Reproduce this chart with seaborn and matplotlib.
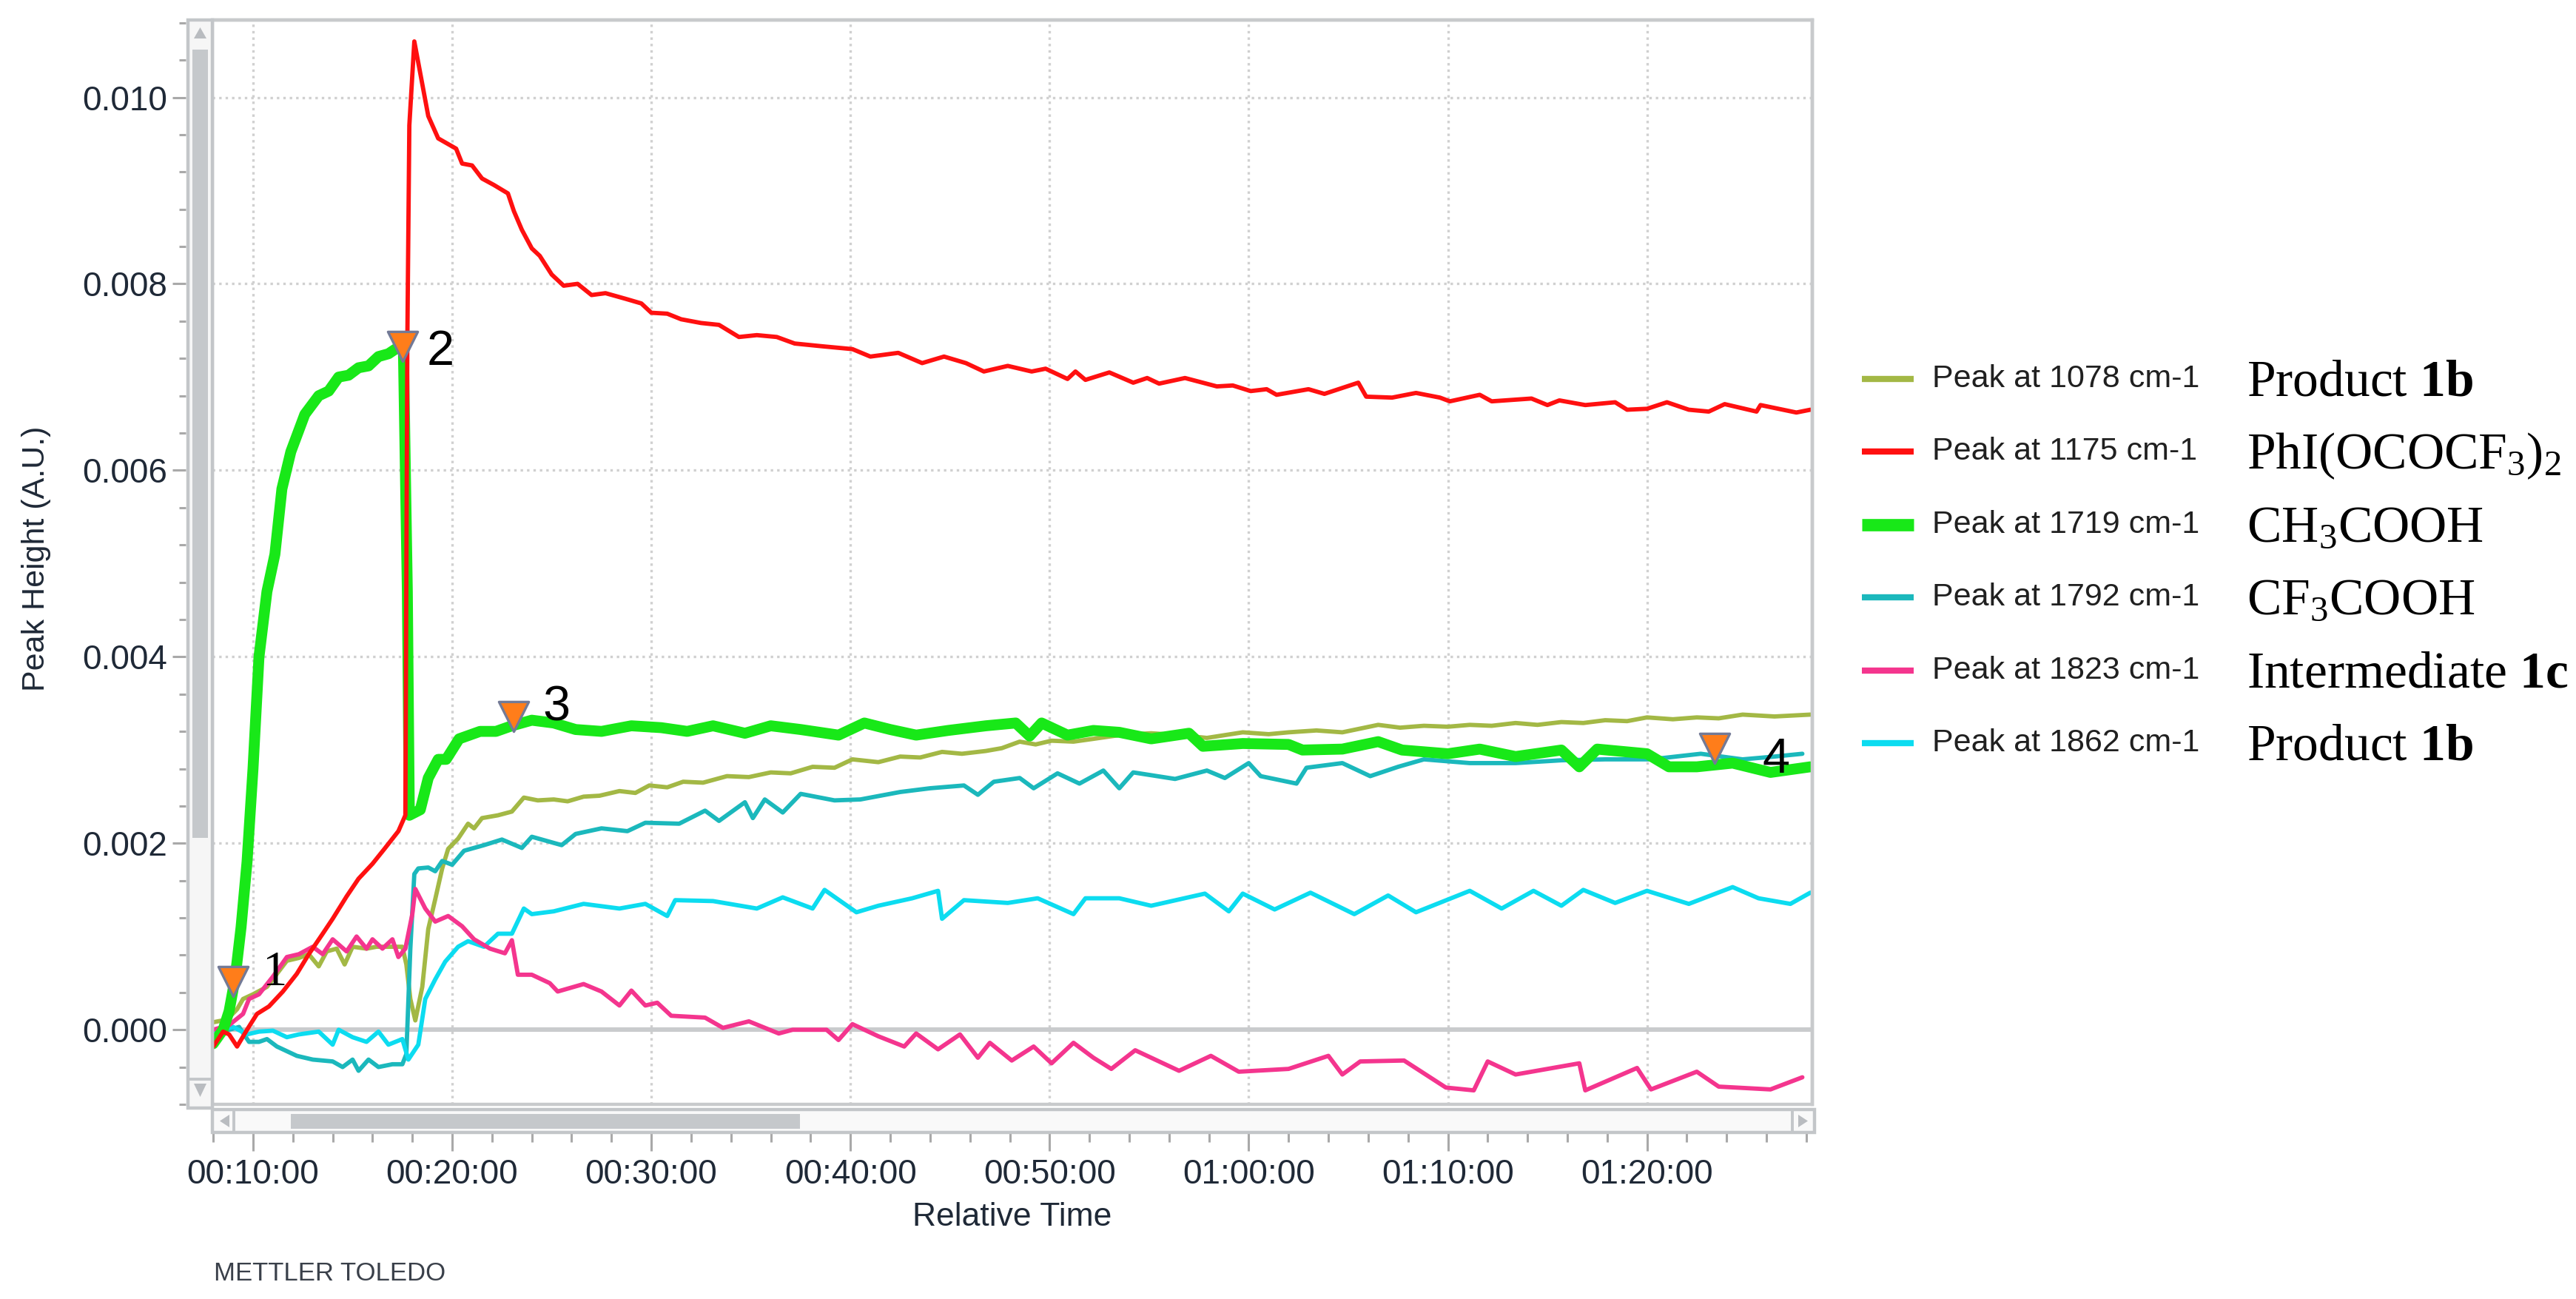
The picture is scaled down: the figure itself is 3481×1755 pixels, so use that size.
import matplotlib
matplotlib.use("Agg")
import pandas as pd
import seaborn as sns
import matplotlib.pyplot as plt
from matplotlib.ticker import MultipleLocator, FuncFormatter
from matplotlib.patches import Rectangle, Polygon
from matplotlib.lines import Line2D

# --- data (time in minutes, peak height in A.U.) ---
t_1078 = [8.0, 8.7, 9.2, 9.5, 10.0, 10.7, 11.2, 11.7, 12.3, 12.8, 13.3, 13.7, 14.2, 14.6, 15.0,
          15.7, 16.2, 16.8, 17.5, 17.7, 17.9, 18.15, 18.5, 18.8, 19.15, 19.5, 19.8, 20.3, 20.8,
          21.1, 21.5, 22.3, 23.0, 23.6, 24.3, 25.1, 25.8, 26.6, 27.4, 28.4, 29.2, 29.9, 30.8,
          31.6, 32.6, 33.8, 34.9, 36.0, 37.0, 38.1, 39.2, 40.1, 41.4, 42.5, 43.5, 44.6, 45.6,
          46.8, 47.6, 48.5, 49.3, 50.1, 51.2, 52.2, 53.5, 55.1, 56.5, 57.9, 59.7, 61.0, 62.0,
          63.4, 64.7, 66.5, 67.6, 68.8, 70.0, 71.1, 72.2, 73.4, 74.5, 75.7, 76.8, 77.9, 79.0,
          80.0, 81.3, 82.5, 83.6, 84.8, 86.4, 88.2]
v_1078 = [0.00008, 0.00011, 0.00022, 0.00033, 0.00038, 0.00046, 0.0006, 0.00074, 0.00077, 0.00081,
          0.00068, 0.00084, 0.00087, 0.0007, 0.00089, 0.00087, 0.00089, 0.00089, 0.00089, 0.0007,
          0.00033, 0.0001, 0.00046, 0.00108, 0.0014, 0.00173, 0.00194, 0.00205, 0.00221, 0.00216,
          0.00227, 0.0023, 0.00234, 0.00249, 0.00246, 0.00247, 0.00245, 0.0025, 0.00251, 0.00256,
          0.00254, 0.00262, 0.0026, 0.00266, 0.00265, 0.00272, 0.00271, 0.00276, 0.00275, 0.00282,
          0.00281, 0.0029, 0.00287, 0.00293, 0.00292, 0.00298, 0.00296, 0.00299, 0.00302, 0.00309,
          0.00306, 0.0031, 0.00309, 0.00312, 0.00316, 0.00318, 0.00316, 0.00313, 0.00319, 0.00317,
          0.00319, 0.00321, 0.00319, 0.00327, 0.00324, 0.00326, 0.00325, 0.00327, 0.00326, 0.00329,
          0.00327, 0.0033, 0.00329, 0.00332, 0.00331, 0.00335, 0.00333, 0.00335, 0.00334, 0.00338,
          0.00336, 0.00338]

t_1175 = [8.0, 8.5, 8.8, 9.2, 9.7, 10.2, 10.8, 11.5, 12.2, 12.8, 13.5, 14.0, 14.7, 15.3, 16.0,
          16.6, 17.3, 17.65, 17.75, 17.85, 18.1, 18.8, 19.3, 20.2, 20.5, 21.0, 21.5, 22.1, 22.8,
          23.1, 23.5, 24.0, 24.4, 25.0, 25.6, 26.3, 27.0, 27.7, 28.7, 29.5, 30.0, 30.8, 31.5,
          32.5, 33.4, 34.4, 35.3, 36.3, 37.2, 38.6, 40.1, 41.0, 42.4, 43.6, 44.7, 45.8, 46.7,
          47.9, 49.1, 49.8, 50.9, 51.3, 51.8, 53.0, 54.2, 54.9, 55.5, 56.8, 58.4, 59.2, 60.1,
          60.9, 61.4, 63.0, 63.8, 65.5, 65.9, 67.2, 68.4, 69.6, 70.1, 71.6, 72.2, 74.2, 75.0,
          75.6, 76.9, 78.4, 79.0, 80.0, 81.0, 82.1, 83.1, 83.9, 85.5, 85.7, 87.5, 88.2]
v_1175 = [-0.00018, -0.00002, -0.00005, -0.00018, 0.0, 0.00017, 0.00025, 0.00041, 0.0006, 0.00081,
          0.00103, 0.00119, 0.00143, 0.00162, 0.00178, 0.00194, 0.00213, 0.0023, 0.0074, 0.0097,
          0.0106, 0.0098, 0.00956, 0.00945, 0.00929, 0.00927, 0.00913, 0.00906, 0.00897, 0.00878,
          0.00858, 0.00838, 0.0083, 0.0081, 0.00798, 0.008, 0.00788, 0.0079, 0.00784, 0.00779,
          0.00769, 0.00768, 0.00762, 0.00758, 0.00756, 0.00743, 0.00745, 0.00743, 0.00736, 0.00733,
          0.0073, 0.00722, 0.00726, 0.00715, 0.00722, 0.00715, 0.00706, 0.00712, 0.00706, 0.00709,
          0.00698, 0.00706, 0.00697, 0.00705, 0.00694, 0.00699, 0.00693, 0.00699, 0.0069, 0.00691,
          0.00685, 0.00687, 0.00681, 0.00687, 0.00682, 0.00694, 0.00679, 0.00678, 0.00683, 0.00678,
          0.00674, 0.00681, 0.00674, 0.00677, 0.0067, 0.00675, 0.0067, 0.00673, 0.00665, 0.00666,
          0.00673, 0.00665, 0.00663, 0.00671, 0.00663, 0.0067, 0.00662, 0.00665]

t_1719 = [8.0, 8.5, 8.8, 9.1, 9.4, 9.7, 10.0, 10.3, 10.7, 11.1, 11.45, 11.9, 12.6, 13.3, 13.8,
          14.3, 14.8, 15.3, 15.8, 16.3, 16.8, 17.15, 17.55, 17.75, 17.85, 18.4, 18.8, 19.3, 19.7,
          20.35, 21.4, 22.2, 23.0, 24.0, 25.1, 26.2, 27.5, 29.0, 30.5, 31.8, 33.1, 34.7, 36.0,
          37.5, 39.4, 40.7, 42.0, 43.3, 44.9, 46.8, 48.3, 49.0, 49.6, 50.9, 52.2, 53.5, 55.1,
          57.0, 57.7, 59.7, 62.0, 62.7, 64.7, 66.5, 67.7, 70.0, 71.6, 73.4, 75.7, 76.6, 77.5,
          80.0, 81.1, 82.5, 84.3, 86.2, 88.2]
v_1719 = [-0.00015, 0.0, 0.0002, 0.00055, 0.0011, 0.0018, 0.0028, 0.004, 0.0047, 0.0051, 0.0058,
          0.0062, 0.0066, 0.0068, 0.00685, 0.007, 0.00702, 0.0071, 0.00712, 0.00722, 0.00725,
          0.0073, 0.00732, 0.0047, 0.0023, 0.00236, 0.0027, 0.0029, 0.0029, 0.00312, 0.0032,
          0.0032, 0.00326, 0.00332, 0.00329, 0.00322, 0.0032, 0.00326, 0.00324, 0.0032, 0.00326,
          0.00318, 0.00326, 0.00322, 0.00316, 0.00329, 0.00322, 0.00316, 0.00321, 0.00326, 0.00329,
          0.00315, 0.00329, 0.00316, 0.00321, 0.00319, 0.00312, 0.00318, 0.00304, 0.00307, 0.00306,
          0.003, 0.00301, 0.00309, 0.003, 0.00296, 0.00301, 0.00293, 0.003, 0.00282, 0.00301,
          0.00296, 0.00282, 0.00282, 0.00286, 0.00276, 0.00282]

t_1792 = [8.0, 8.8, 9.3, 9.8, 10.3, 10.7, 11.2, 12.2, 13.0, 14.0, 14.5, 15.0, 15.3, 15.8, 16.3,
          17.0, 17.5, 17.7, 17.9, 18.1, 18.3, 18.8, 19.15, 19.5, 20.0, 20.6, 21.6, 22.5, 23.5,
          24.0, 25.5, 26.2, 27.5, 28.8, 29.7, 31.4, 32.7, 33.4, 34.7, 35.1, 35.7, 36.6, 37.5,
          39.2, 40.5, 42.5, 44.0, 45.7, 46.4, 47.2, 48.5, 49.2, 50.4, 51.5, 52.7, 53.5, 54.2,
          56.3, 57.9, 58.8, 60.0, 60.6, 62.4, 62.9, 64.7, 66.1, 67.5, 68.8, 71.1, 73.4, 75.7,
          77.9, 80.2, 82.7, 84.8, 86.4, 87.8]
v_1792 = [-0.00002, 0.0, 0.00003, -0.00013, -0.00013, -0.0001, -0.00018, -0.00028, -0.00032,
          -0.00034, -0.0004, -0.00032, -0.00044, -0.00032, -0.0004, -0.00037, -0.00037, -0.00026,
          0.00087, 0.00167, 0.00173, 0.00174, 0.0017, 0.00181, 0.00177, 0.00192, 0.00198, 0.00204,
          0.00195, 0.00207, 0.00198, 0.0021, 0.00216, 0.00213, 0.00222, 0.00221, 0.00235, 0.00224,
          0.00244, 0.00227, 0.00247, 0.00233, 0.00253, 0.00246, 0.00247, 0.00255, 0.00259, 0.00262,
          0.00252, 0.00266, 0.0027, 0.00259, 0.00275, 0.00264, 0.00278, 0.00259, 0.00276, 0.00269,
          0.00278, 0.0027, 0.00286, 0.00272, 0.00264, 0.00281, 0.00286, 0.00272, 0.00282, 0.0029,
          0.00286, 0.00286, 0.00289, 0.0029, 0.0029, 0.00296, 0.0029, 0.00293, 0.00296]

t_1823 = [8.0, 8.8, 9.5, 9.8, 10.3, 11.0, 11.7, 12.3, 13.0, 13.5, 14.0, 14.7, 15.2, 15.7, 16.0,
          16.5, 17.0, 17.3, 17.65, 18.0, 18.15, 18.65, 19.15, 19.8, 20.5, 21.1, 21.9, 22.65,
          23.0, 23.3, 24.0, 24.9, 25.3, 26.6, 27.5, 28.4, 29.0, 29.7, 30.3, 31.0, 32.7, 33.6,
          34.9, 36.4, 37.1, 38.8, 39.4, 40.1, 41.4, 42.7, 43.3, 44.4, 45.5, 46.4, 47.0, 48.1,
          49.2, 50.1, 51.2, 52.2, 53.1, 54.3, 56.5, 58.1, 59.5, 62.0, 64.0, 64.7, 65.6, 67.8,
          69.9, 71.3, 72.0, 73.4, 76.6, 76.9, 79.5, 80.2, 82.5, 83.6, 86.2, 87.8]
v_1823 = [0.0, 0.00005, 0.00017, 0.00033, 0.00038, 0.00057, 0.00078, 0.00081, 0.00089, 0.00081,
          0.00097, 0.00084, 0.001, 0.00087, 0.00097, 0.00087, 0.00097, 0.00078, 0.00087, 0.00124,
          0.00151, 0.0013, 0.00116, 0.00122, 0.00111, 0.00097, 0.00087, 0.00082, 0.00096, 0.00059,
          0.00059, 0.0005, 0.00041, 0.00049, 0.00041, 0.00026, 0.00042, 0.00026, 0.00029, 0.00015,
          0.00013, 0.00002, 0.00009, -0.00004, 0.0, 0.0, -0.00011, 0.00006, -0.00007, -0.00018,
          -0.00004, -0.00021, -0.00005, -0.0003, -0.00014, -0.00033, -0.00018, -0.00036, -0.00014,
          -0.0003, -0.00042, -0.00022, -0.00044, -0.00028, -0.00045, -0.00042, -0.00028, -0.00048,
          -0.00034, -0.00033, -0.00062, -0.00065, -0.00034, -0.00048, -0.00036, -0.00065, -0.00041,
          -0.00064, -0.00045, -0.00061, -0.00064, -0.00051]

t_1862 = [8.0, 9.0, 9.7, 10.3, 11.0, 11.7, 12.3, 13.3, 14.0, 14.3, 15.0, 15.7, 16.3, 16.8, 17.5,
          17.8, 18.3, 18.65, 19.15, 19.65, 20.3, 20.8, 21.6, 22.3, 23.0, 23.6, 24.0, 25.1, 26.6,
          28.4, 29.7, 30.8, 31.2, 33.1, 35.3, 36.6, 38.1, 38.7, 40.3, 41.4, 43.1, 44.4, 44.6,
          45.7, 47.9, 49.4, 51.2, 51.8, 53.5, 55.1, 57.8, 59.0, 59.7, 61.3, 63.1, 65.3, 67.0,
          68.4, 71.1, 72.7, 74.3, 75.7, 76.8, 78.4, 80.0, 82.1, 84.3, 85.6, 87.2, 88.2]
v_1862 = [-0.00002, 0.00003, -0.00005, -0.00002, -0.00001, -0.00008, -0.00005, -0.00002, -0.00016,
          0.0, -0.00008, -0.00013, -0.00002, -0.00016, -0.0001, -0.00032, -0.00016, 0.00033,
          0.00054, 0.00073, 0.00089, 0.00095, 0.00089, 0.00103, 0.00103, 0.0013, 0.00124, 0.00127,
          0.00135, 0.0013, 0.00135, 0.00122, 0.00139, 0.00138, 0.0013, 0.00142, 0.0013, 0.0015,
          0.00126, 0.00133, 0.00141, 0.00149, 0.00119, 0.00139, 0.00136, 0.00141, 0.00124, 0.00141,
          0.00141, 0.00133, 0.00146, 0.00127, 0.00146, 0.00129, 0.00147, 0.00124, 0.00144, 0.00126,
          0.00149, 0.0013, 0.00149, 0.00133, 0.0015, 0.00136, 0.00149, 0.00135, 0.00153, 0.00141,
          0.00135, 0.00147]

peak_labels = ["Peak at 1078 cm-1", "Peak at 1175 cm-1", "Peak at 1719 cm-1",
               "Peak at 1792 cm-1", "Peak at 1823 cm-1", "Peak at 1862 cm-1"]
species = [r"Product $\mathbf{1b}$", r"PhI(OCOCF$_3$)$_2$", r"CH$_3$COOH",
           r"CF$_3$COOH", r"Intermediate $\mathbf{1c}$", r"Product $\mathbf{1b}$"]

event_t = [9.0, 17.5, 23.1, 83.4]
event_v = [0.00052, 0.00733, 0.00336, 0.00302]
event_labels = ["1", "2", "3", "4"]

# --- styling ---
colors = ["#a3b845", "#ff1010", "#18e818", "#1bb8bc", "#f4358e", "#0cdcf0"]
widths = [2.1, 2.1, 5.3, 2.1, 2.1, 2.1]
draw_order = [0, 3, 5, 4, 2, 1]
series_t = [t_1078, t_1175, t_1719, t_1792, t_1823, t_1862]
series_v = [v_1078, v_1175, v_1719, v_1792, v_1823, v_1862]

W, H = 3481, 1755
DPI = 200


def fx(x):
    return x / W


def fy(y):
    return 1 - y / H


sns.set_style("white")
plt.rcParams['font.family'] = ['Liberation Sans', 'DejaVu Sans']
plt.rcParams['mathtext.fontset'] = 'custom'
plt.rcParams['mathtext.rm'] = 'Liberation Serif'
plt.rcParams['mathtext.it'] = 'Liberation Serif:italic'
plt.rcParams['mathtext.bf'] = 'Liberation Serif:bold'

fig = plt.figure(figsize=(W / DPI, H / DPI), dpi=DPI)
ax = fig.add_axes([fx(287), fy(1492), fx(2449) - fx(287), fy(27) - fy(1492)])

for i in draw_order:
    df = pd.DataFrame({"t": series_t[i], "v": series_v[i]})
    sns.lineplot(data=df, x="t", y="v", color=colors[i], linewidth=widths[i],
                 estimator=None, sort=False, ax=ax, zorder=3 + draw_order.index(i))

ax.axhline(0, color="#c9cbcd", lw=2.2, zorder=1)

sns.scatterplot(x=event_t, y=event_v, marker="v", s=210, color="#ff7d1a",
                edgecolor="#737a96", linewidth=1.2, zorder=20, ax=ax)
label_offsets = [(14, 4), (12, -3), (14, 4), (23, -6)]
label_fonts = ['Liberation Serif', 'Liberation Sans', 'Liberation Sans', 'Liberation Sans']
for lbl, xt, yv, off, fam in zip(event_labels, event_t, event_v, label_offsets, label_fonts):
    ax.annotate(lbl, (xt, yv), xytext=off, textcoords="offset points",
                fontsize=24, va="center", ha="left", family=fam, color="black", zorder=21)

ax.set_xlim(7.96, 88.3)
ax.set_ylim(-0.0008, 0.01083)

ax.xaxis.set_major_locator(MultipleLocator(10))
ax.xaxis.set_minor_locator(MultipleLocator(2))
ax.yaxis.set_major_locator(MultipleLocator(0.002))
ax.yaxis.set_minor_locator(MultipleLocator(0.0004))
ax.xaxis.set_major_formatter(FuncFormatter(
    lambda m, p: "%02d:%02d:00" % (int(round(m)) // 60, int(round(m)) % 60)))
ax.yaxis.set_major_formatter(FuncFormatter(lambda v, p: "%.3f" % v))

ax.grid(True, which="major", linestyle=(0, (1, 1.6)), color="#d0d0d0", lw=1.2)
ax.set_axisbelow(True)

ax.spines["left"].set_position(("outward", 13))
ax.spines["bottom"].set_position(("outward", 13.7))
ax.spines["left"].set_visible(False)
ax.spines["bottom"].set_visible(False)
for s in ["top", "right"]:
    ax.spines[s].set_color("#c8cacc")
    ax.spines[s].set_linewidth(1.6)

ax.tick_params(axis="y", which="major", length=6.5, width=1.1, color="#a9a9a9", pad=2.5,
               labelsize=16.5, labelcolor="#1f2937", left=True)
ax.tick_params(axis="y", which="minor", length=3.2, width=1.1, color="#a9a9a9", left=True)
ax.tick_params(axis="x", which="major", length=9, width=1.1, color="#a9a9a9", pad=3.5,
               labelsize=16.5, labelcolor="#1f2937", bottom=True)
ax.tick_params(axis="x", which="minor", length=4.7, width=1.1, color="#a9a9a9", bottom=True)

ax.set_xlabel("Relative Time", fontsize=16, color="#1f2937", va="center")
ax.set_ylabel("Peak Height (A.U.)", fontsize=15.5, color="#1f2937", va="center")
ax.xaxis.set_label_coords(0.5, -0.104)
ax.yaxis.set_label_coords(-0.110, 0.503)

# plot border and scroll bars (instrument software look)
ax.add_patch(Rectangle((0, 0), 1, 1, transform=ax.transAxes, fill=False,
                       ec="#c8cacc", lw=1.6, clip_on=False, zorder=30))
gray_edge = "#c3c6c9"
thumb = "#c5c8cb"
arrow = "#b9bcc0"
fig.add_artist(Rectangle((fx(254), fy(1497)), fx(287) - fx(254), fy(27) - fy(1497),
                         transform=fig.transFigure, fc="#f6f6f6", ec=gray_edge, lw=1.6))
fig.add_artist(Rectangle((fx(260), fy(1132)), fx(281) - fx(260), fy(67) - fy(1132),
                         transform=fig.transFigure, fc=thumb, ec="none"))
fig.add_artist(Polygon([(fx(262), fy(52)), (fx(279), fy(52)), (fx(270.5), fy(37))],
                       transform=fig.transFigure, fc=arrow, ec="none"))
fig.add_artist(Polygon([(fx(262), fy(1464)), (fx(279), fy(1464)), (fx(270.5), fy(1482))],
                       transform=fig.transFigure, fc=arrow, ec="none"))
fig.add_artist(Line2D([fx(254), fx(287)], [fy(1458), fy(1458)], transform=fig.transFigure,
                      color=gray_edge, lw=1.4))
fig.add_artist(Rectangle((fx(287), fy(1530)), fx(2452) - fx(287), fy(1499) - fy(1530),
                         transform=fig.transFigure, fc="#f9f9f9", ec=gray_edge, lw=1.6))
fig.add_artist(Rectangle((fx(393), fy(1525)), fx(1081) - fx(393), fy(1505) - fy(1525),
                         transform=fig.transFigure, fc=thumb, ec="none"))
fig.add_artist(Polygon([(fx(310), fy(1506)), (fx(310), fy(1523)), (fx(297), fy(1514.5))],
                       transform=fig.transFigure, fc=arrow, ec="none"))
fig.add_artist(Polygon([(fx(2430), fy(1506)), (fx(2430), fy(1523)), (fx(2443), fy(1514.5))],
                       transform=fig.transFigure, fc=arrow, ec="none"))
fig.add_artist(Line2D([fx(316), fx(316)], [fy(1499), fy(1530)], transform=fig.transFigure,
                      color=gray_edge, lw=1.4))
fig.add_artist(Line2D([fx(2422), fx(2422)], [fy(1499), fy(1530)], transform=fig.transFigure,
                      color=gray_edge, lw=1.4))

fig.text(fx(289), fy(1720), "METTLER TOLEDO", fontsize=12.5, color="#3a404a",
         ha="left", va="center")

# legend: instrument labels plus species names
row_y = [512, 610, 709, 807, 906, 1004]
legend_w = [3.0, 3.0, 6.0, 3.0, 3.0, 3.0]
for i, yy in enumerate(row_y):
    fig.add_artist(Line2D([fx(2516), fx(2586)], [fy(yy), fy(yy)], transform=fig.transFigure,
                          color=colors[i], lw=legend_w[i], solid_capstyle="butt"))
    fig.text(fx(2611), fy(yy), peak_labels[i], fontsize=15.5, color="#202020",
             ha="left", va="center")
    fig.text(fx(3036), fy(yy + 6), species[i], fontsize=25, family="Liberation Serif",
             color="black", ha="left", va="center")

fig.savefig("out.png", dpi=DPI)
